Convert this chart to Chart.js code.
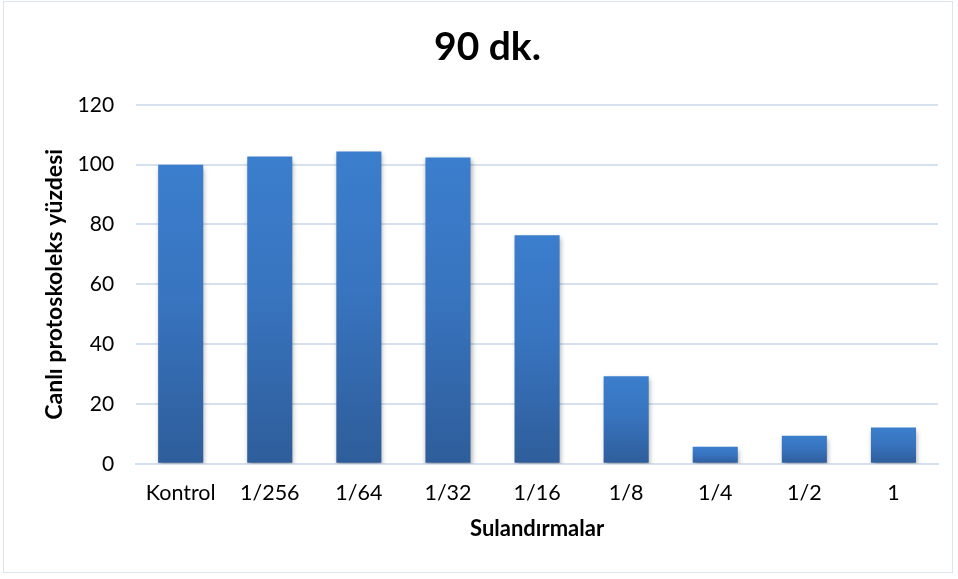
<!DOCTYPE html>
<html>
<head>
<meta charset="utf-8">
<script src="https://cdn.jsdelivr.net/npm/chart.js@4/dist/chart.umd.min.js"></script>
<style>
  html, body { margin: 0; padding: 0; background: #fff; }
  #wrap { position: relative; width: 958px; height: 579px; }
  #frame { position: absolute; left: 3px; top: 1px; width: 950px; height: 572px;
           border: 1.5px solid #DCE4EE; box-sizing: border-box; pointer-events: none; }
  canvas { position: absolute; left: 0; top: 0; }
</style>
</head>
<body>
<div id="wrap">
  <canvas id="c" width="958" height="579"></canvas>
  <div id="frame"></div>
</div>
<script>
// Dilution levels and percentage of viable protoscolices after 90 minutes
const categories = ['Kontrol', '1/256', '1/64', '1/32', '1/16', '1/8', '1/4', '1/2', '1'];
const viablePercent = [100.0, 102.7, 104.4, 102.4, 76.4, 29.3, 5.7, 9.4, 12.1];
const yTicks = [0, 20, 40, 60, 80, 100, 120];

const FONT = "Lato, 'Open Sans', 'Liberation Sans', sans-serif";

// Each bar fades from a bright blue at its top to a deeper blue at the baseline
function barGradient(ctx) {
  const chart = ctx.chart;
  const y = chart.scales.y;
  if (!y || ctx.type !== 'data') return '#3A7CCA';
  const top = y.getPixelForValue(ctx.raw);
  const bottom = y.getPixelForValue(0);
  if (!isFinite(top) || !isFinite(bottom) || top === bottom) return '#3A7CCA';
  const g = chart.ctx.createLinearGradient(0, top, 0, bottom);
  g.addColorStop(0, '#3B7ECD');
  g.addColorStop(0.45, '#3874BF');
  g.addColorStop(1, '#2E5D9A');
  return g;
}

// Soft drop shadow under the bars
const barShadow = {
  id: 'barShadow',
  beforeDatasetsDraw(chart) {
    const c = chart.ctx;
    c.save();
    c.shadowColor = 'rgba(0,0,0,0.35)';
    c.shadowBlur = 5;
    c.shadowOffsetX = 1;
    c.shadowOffsetY = 3;
  },
  afterDatasetsDraw(chart) {
    chart.ctx.restore();
  }
};

new Chart(document.getElementById('c'), {
  type: 'bar',
  data: {
    labels: categories,
    datasets: [{
      data: viablePercent,
      backgroundColor: barGradient,
      borderWidth: 0,
      barPercentage: 1,
      categoryPercentage: 0.506
    }]
  },
  options: {
    responsive: false,
    animation: false,
    layout: { padding: { left: 37, right: 20, top: 16, bottom: 33 } },
    plugins: {
      legend: { display: false },
      tooltip: { enabled: false },
      title: {
        display: true,
        text: '90 dk.',
        color: '#000',
        font: { family: FONT, size: 39, weight: 'bold' },
        padding: { top: 8, bottom: 34 }
      }
    },
    scales: {
      x: {
        grid: { display: false, drawTicks: false },
        border: { display: true, color: '#D6E1F0', width: 2 },
        ticks: { color: '#000', font: { family: FONT, size: 21.5 }, padding: 16, maxRotation: 0 },
        title: {
          display: true,
          text: 'Sulandırmalar',
          color: '#000',
          font: { family: FONT, size: 22, weight: 'bold' },
          padding: { top: -6 }
        }
      },
      y: {
        min: 0,
        max: 120,
        afterBuildTicks(axis) { axis.ticks = yTicks.map(v => ({ value: v })); },
        grid: { color: '#D6E1F0', lineWidth: 2, drawTicks: false },
        border: { display: false },
        ticks: { color: '#000', font: { family: FONT, size: 21 }, padding: 22 },
        title: {
          display: true,
          text: 'Canlı protoskoleks yüzdesi',
          color: '#000',
          font: { family: FONT, size: 23, weight: 'bold' },
          padding: { bottom: -13 }
        }
      }
    }
  },
  plugins: [barShadow]
});
</script>
</body>
</html>
